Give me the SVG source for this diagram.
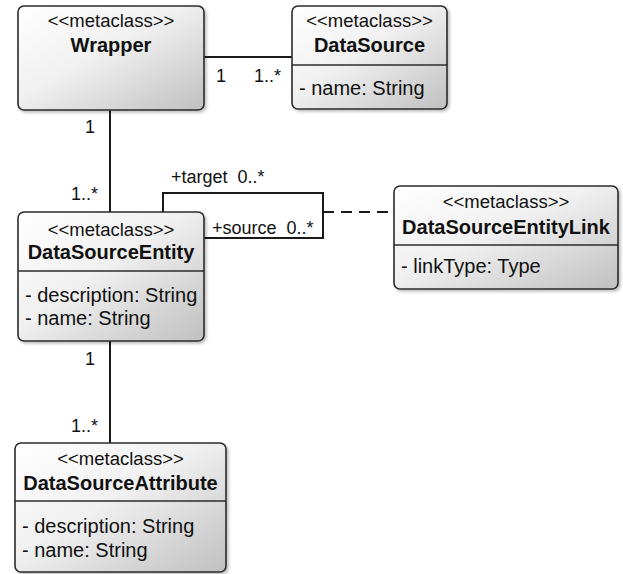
<svg xmlns="http://www.w3.org/2000/svg" width="623" height="574" viewBox="0 0 623 574">
<defs>
<linearGradient id="g" x1="0" y1="0" x2="1" y2="1">
<stop offset="0" stop-color="#ffffff"/>
<stop offset="0.45" stop-color="#f0f0f0"/>
<stop offset="1" stop-color="#c0c0c0"/>
</linearGradient>
<filter id="sh" x="-10%" y="-10%" width="130%" height="130%">
<feGaussianBlur in="SourceAlpha" stdDeviation="1.5"/>
<feOffset dx="2" dy="2"/>
<feComponentTransfer><feFuncA type="linear" slope="0.25"/></feComponentTransfer>
<feMerge><feMergeNode/><feMergeNode in="SourceGraphic"/></feMerge>
</filter>
</defs>
<style>
.box{fill:url(#g);stroke:#2b2b2b;stroke-width:1.6;filter:url(#sh)}
.div{stroke:#2b2b2b;stroke-width:1.4}
.st{font-family:"Liberation Sans",Arial,sans-serif;font-size:18.5px;fill:#111;text-anchor:middle}
.nm{font-family:"Liberation Sans",Arial,sans-serif;font-size:20px;font-weight:bold;fill:#111;text-anchor:middle}
.at{font-family:"Liberation Sans",Arial,sans-serif;font-size:20px;fill:#111}
.lb{font-family:"Liberation Sans",Arial,sans-serif;font-size:18px;fill:#111;white-space:pre}
.ln{fill:none;stroke:#1a1a1a;stroke-width:2}
.dash{fill:none;stroke:#1a1a1a;stroke-width:2;stroke-dasharray:11,7}
</style>
<rect width="623" height="574" fill="#ffffff"/>
<g id="connectors">
<line class="ln" x1="204" y1="57" x2="292" y2="57"/>
<line class="ln" x1="110" y1="110" x2="110" y2="212"/>
<line class="ln" x1="110" y1="341" x2="110" y2="443"/>
<polyline class="ln" points="163,212 163,193 323,193 323,238 204,238"/>
<line class="dash" x1="323" y1="212" x2="394" y2="212"/>
<text class="lb" x="216" y="82">1</text>
<text class="lb" x="254" y="82">1..*</text>
<text class="lb" x="95" y="133" text-anchor="end">1</text>
<text class="lb" x="98" y="200" text-anchor="end">1..*</text>
<text class="lb" x="95" y="365" text-anchor="end">1</text>
<text class="lb" x="98" y="432" text-anchor="end">1..*</text>
<text class="lb" x="171" y="183" xml:space="preserve">+target  0..*</text>
<text class="lb" x="212" y="234" xml:space="preserve">+source  0..*</text>
</g>
<g id="Wrapper">
<rect class="box" x="18" y="6" width="186" height="104" rx="6"/>
<text class="st" x="111" y="27">&lt;&lt;metaclass&gt;&gt;</text>
<text class="nm" x="111" y="52">Wrapper</text>
</g>
<g id="DataSource">
<rect class="box" x="292" y="6" width="155" height="103" rx="6"/>
<line class="div" x1="292" y1="65" x2="447" y2="65"/>
<text class="st" x="369.5" y="27">&lt;&lt;metaclass&gt;&gt;</text>
<text class="nm" x="369.5" y="52">DataSource</text>
<text class="at" x="299" y="95">- name: String</text>
</g>
<g id="DataSourceEntity">
<rect class="box" x="18" y="212" width="186" height="129" rx="6"/>
<line class="div" x1="18" y1="271" x2="204" y2="271"/>
<text class="st" x="111" y="236">&lt;&lt;metaclass&gt;&gt;</text>
<text class="nm" x="111" y="259">DataSourceEntity</text>
<text class="at" x="25" y="302">- description: String</text>
<text class="at" x="25" y="325">- name: String</text>
</g>
<g id="DataSourceEntityLink">
<rect class="box" x="394" y="186" width="224" height="103" rx="6"/>
<line class="div" x1="394" y1="245" x2="618" y2="245"/>
<text class="st" x="506" y="208">&lt;&lt;metaclass&gt;&gt;</text>
<text class="nm" x="506" y="234">DataSourceEntityLink</text>
<text class="at" x="401" y="273">- linkType: Type</text>
</g>
<g id="DataSourceAttribute">
<rect class="box" x="15" y="443" width="211" height="129" rx="6"/>
<line class="div" x1="15" y1="501" x2="226" y2="501"/>
<text class="st" x="120.5" y="465">&lt;&lt;metaclass&gt;&gt;</text>
<text class="nm" x="120.5" y="490">DataSourceAttribute</text>
<text class="at" x="22" y="533">- description: String</text>
<text class="at" x="22" y="557">- name: String</text>
</g>
</svg>
